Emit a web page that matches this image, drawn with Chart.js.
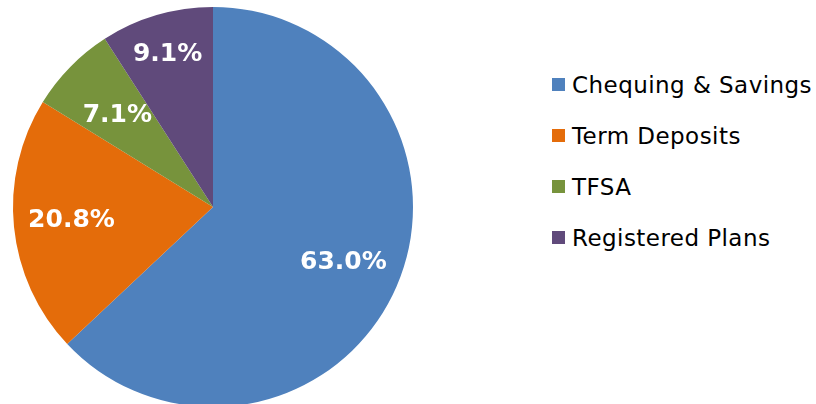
<!DOCTYPE html>
<html>
<head>
<meta charset="utf-8">
<script src="https://cdn.jsdelivr.net/npm/chart.js@4"></script>
<style>
  html, body { margin: 0; padding: 0; background: #fff; overflow: hidden; }
  #wrap { position: relative; width: 816px; height: 404px; }
  #pieBox { position: absolute; left: 0; top: 0; width: 413px; height: 414px; }
  #legend { position: absolute; left: 552px; top: 69px; font-family: 'DejaVu Sans', Verdana, sans-serif; font-size: 23px; letter-spacing: 0.45px; color: #000; }
  .item { display: flex; align-items: center; height: 31px; margin-bottom: 20px; white-space: nowrap; }
  .sw { width: 13px; height: 13px; margin-right: 7px; flex: none; }
</style>
</head>
<body>
<div id="wrap">
  <div id="pieBox"><canvas id="pie"></canvas></div>
  <div id="legend"></div>
</div>
<script>
// Data
const labels = ['Chequing & Savings', 'Term Deposits', 'TFSA', 'Registered Plans'];
const shares = [63.0, 20.8, 7.1, 9.1];
const colors = ['#4F81BD', '#E46C0A', '#77933C', '#604A7B'];

// label placement tweaks (angle shift in degrees, fraction of radius)
const labelPlace = [
    { dAngle: -1, r: 0.705 },
    { dAngle: 1, r: 0.71 },
    { dAngle: 0, r: 0.67 },
    { dAngle: 0, r: 0.805 },
];

const sliceLabels = {
    id: 'sliceLabels',
    afterDatasetsDraw(chart) {
        const ctx = chart.ctx;
        const meta = chart.getDatasetMeta(0);
        ctx.save();
        ctx.fillStyle = '#fff';
        ctx.font = "bold 25px 'DejaVu Sans', Verdana, sans-serif";
        ctx.textAlign = 'center';
        ctx.textBaseline = 'middle';
        meta.data.forEach((arc, i) => {
            const p = labelPlace[i];
            const mid = (arc.startAngle + arc.endAngle) / 2 + p.dAngle * Math.PI / 180;
            const r = arc.outerRadius * p.r;
            const x = arc.x + Math.cos(mid) * r;
            const y = arc.y + Math.sin(mid) * r + 2;
            ctx.fillText(shares[i].toFixed(1) + '%', x, y);
        });
        ctx.restore();
    },
};

const canvas = document.getElementById('pie');
canvas.width = 413;
canvas.height = 414;

new Chart(canvas, {
    type: 'pie',
    data: {
        labels,
        datasets: [{
            data: shares,
            backgroundColor: colors,
            borderWidth: 0,
        }],
    },
    options: {
        responsive: false,
        animation: false,
        layout: { padding: { left: 13, right: 0, top: 7, bottom: 7 } },
        plugins: {
            legend: { display: false },
            tooltip: { enabled: false },
        },
    },
    plugins: [sliceLabels],
});

// HTML legend
const legend = document.getElementById('legend');
labels.forEach((name, i) => {
    const row = document.createElement('div');
    row.className = 'item';
    const sw = document.createElement('span');
    sw.className = 'sw';
    sw.style.background = colors[i];
    const txt = document.createElement('span');
    txt.textContent = name;
    row.appendChild(sw);
    row.appendChild(txt);
    legend.appendChild(row);
});
</script>
</body>
</html>
